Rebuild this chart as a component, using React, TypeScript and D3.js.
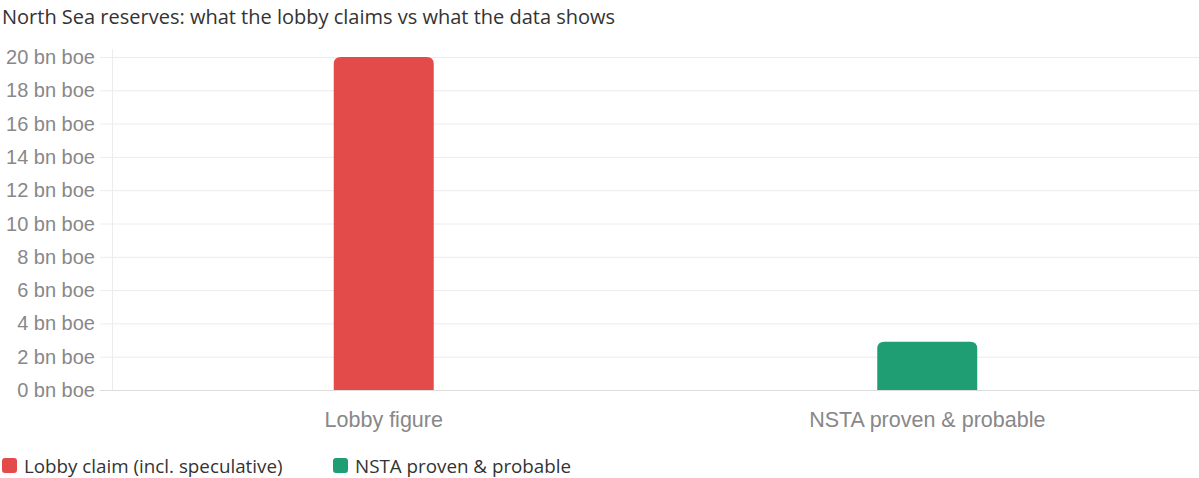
import React from "react";
import * as d3 from "d3";

const title = "North Sea reserves: what the lobby claims vs what the data shows";
const categories = ["Lobby figure", "NSTA proven & probable"];
const seriesNames = ["Lobby claim (incl. speculative)", "NSTA proven & probable"];
const values = [20, 2.9];
const colors = ["#e34b4b", "#1f9e74"];
const yTicks = [0, 2, 4, 6, 8, 10, 12, 14, 16, 18, 20];

const W = 1199;
const H = 478;
const left = 112;
const right = 1199;
const top = 57;
const bottom = 390;

function roundedTopBar(x: number, y: number, w: number, h: number, r: number) {
  const rr = Math.min(r, h, w / 2);
  return `M${x},${y + h}V${y + rr}Q${x},${y} ${x + rr},${y}H${x + w - rr}Q${x + w},${y} ${x + w},${y + rr}V${y + h}Z`;
}

export default function App() {
  const y = d3.scaleLinear().domain([0, 20]).range([bottom, top]);
  const x = d3.scaleBand<string>().domain(categories).range([left, right]);
  const barW = 100;
  const tickFont = "'Liberation Sans', Arial, sans-serif";
  const textFont = "'Open Sans', 'Noto Sans', sans-serif";
  return (
    <svg width={W} height={H} style={{ position: "absolute", left: 0, top: 0, background: "#fff" }}>
      <text x={2} y={24} fontFamily={textFont} fontSize={20} fill="#333">{title}</text>
      {yTicks.map((t) => (
        <g key={t}>
          <line x1={100} x2={right} y1={y(t) + 0.5} y2={y(t) + 0.5} stroke={t === 0 ? "#dcdcdc" : "#ececec"} strokeWidth={1} />
          <text x={95} y={y(t)} dy="0.35em" textAnchor="end" fontFamily={tickFont} fontSize={20} fill="#888">{`${t} bn boe`}</text>
        </g>
      ))}
      <line x1={left + 0.5} x2={left + 0.5} y1={top - 8} y2={bottom} stroke="#ececec" />
      {categories.map((c, i) => {
        const cx = (x(c) as number) + x.bandwidth() / 2;
        const y0 = y(values[i]);
        return (
          <g key={c}>
            <path d={roundedTopBar(cx - barW / 2, y0, barW, bottom - y0, 7)} fill={colors[i]} />
            <text x={cx} y={427} textAnchor="middle" fontFamily={tickFont} fontSize={21.5} fill="#888">{c}</text>
          </g>
        );
      })}
      {seriesNames.map((s, i) => {
        const lx = [2, 333][i];
        return (
          <g key={s}>
            <rect x={lx} y={458} width={15} height={15} rx={3} fill={colors[i]} />
            <text x={lx + 22} y={473} fontFamily={textFont} fontSize={18.8} fill="#333">{s}</text>
          </g>
        );
      })}
    </svg>
  );
}
